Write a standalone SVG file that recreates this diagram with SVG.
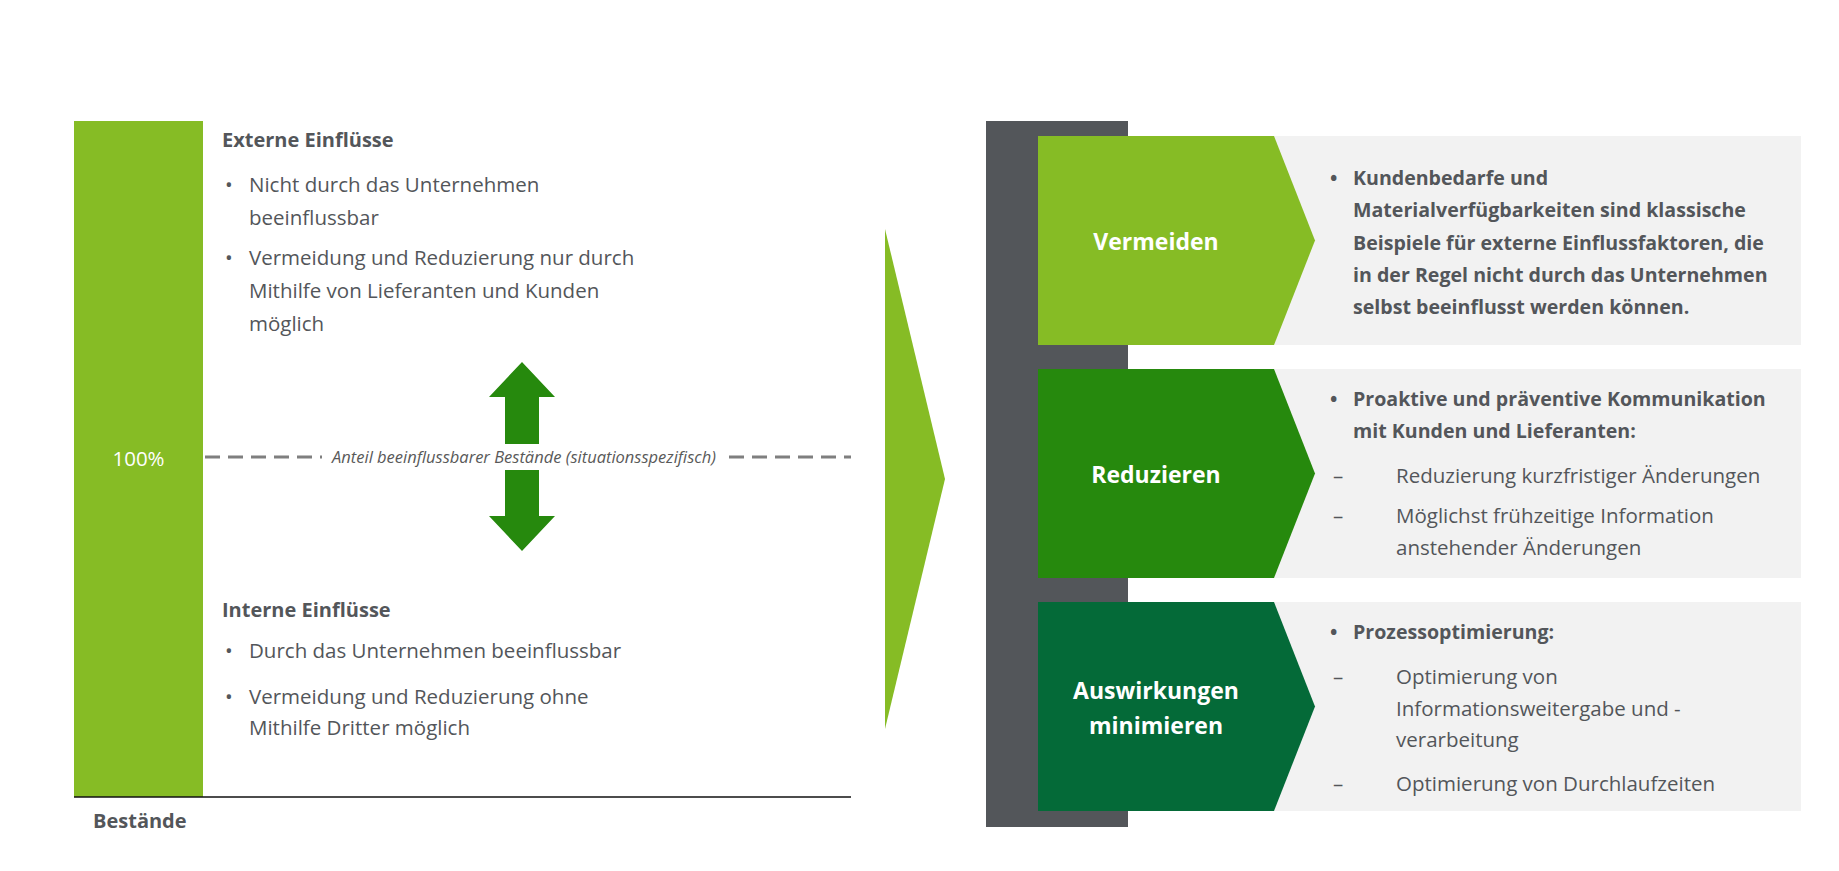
<svg xmlns="http://www.w3.org/2000/svg" width="1839" height="871" viewBox="0 0 1839 871">
<style>
text{font-family:"Open Sans","Liberation Sans",sans-serif;fill:#53565a}
.b{font-size:20.5px}
.h{font-size:20px;font-weight:700}
.r{font-size:20.5px}
.rb{font-size:19.6px;font-weight:700}
.lbl{font-size:23px;font-weight:700;fill:#ffffff;text-anchor:middle}
.it{font-size:16.5px;font-style:italic;fill:#595959}
.box{fill:#f2f2f2}
</style>
<rect width="1839" height="871" fill="#ffffff"/>
<g id="bar">
<rect x="74" y="121" width="129" height="676" fill="#86bc25"/>
<text x="138.5" y="466" class="b" style="fill:#ffffff" text-anchor="middle">100%</text>
</g>
<g id="axis">
<line x1="74" y1="797" x2="851" y2="797" stroke="#111" stroke-width="1.5"/>
<text x="93" y="828" class="h">Bestände</text>
</g>
<g id="extern">
<text x="222" y="147" class="h">Externe Einflüsse</text>
<text x="225" y="192" class="b">•</text>
<text x="249" y="192" class="b">Nicht durch das Unternehmen</text>
<text x="249" y="225" class="b">beeinflussbar</text>
<text x="225" y="265" class="b">•</text>
<text x="249" y="265" class="b">Vermeidung und Reduzierung nur durch</text>
<text x="249" y="298" class="b">Mithilfe von Lieferanten und Kunden</text>
<text x="249" y="331" class="b">möglich</text>
</g>
<g id="intern">
<text x="222" y="617" class="h">Interne Einflüsse</text>
<text x="225" y="658" class="b">•</text>
<text x="249" y="658" class="b">Durch das Unternehmen beeinflussbar</text>
<text x="225" y="704" class="b">•</text>
<text x="249" y="704" class="b">Vermeidung und Reduzierung ohne</text>
<text x="249" y="735" class="b">Mithilfe Dritter möglich</text>
</g>
<g id="connectors">
<line x1="205" y1="457" x2="322" y2="457" stroke="#7f7f7f" stroke-width="3" stroke-dasharray="15 8"/>
<line x1="729" y1="457" x2="851" y2="457" stroke="#7f7f7f" stroke-width="3" stroke-dasharray="15 8"/>
<text x="524" y="463" class="it" text-anchor="middle">Anteil beeinflussbarer Bestände (situationsspezifisch)</text>
<polygon points="522,362 555,397 539,397 539,444 505,444 505,397 489,397" fill="#26890d"/>
<polygon points="522,551 555,516 539,516 539,470 505,470 505,516 489,516" fill="#26890d"/>
<polygon points="885,229 945,479 885,729" fill="#86bc25"/>
</g>
<g id="frame">
<rect x="986" y="121" width="142" height="706" fill="#53565a"/>
</g>
<g id="vermeiden">
<rect class="box" x="1270" y="136" width="531" height="209"/>
<polygon points="1038,136 1274,136 1315,240.5 1274,345 1038,345" fill="#86bc25"/>
<text x="1156" y="250" class="lbl">Vermeiden</text>
<text x="1330" y="185" class="rb">•</text>
<text x="1353" y="185" class="rb">Kundenbedarfe und</text>
<text x="1353" y="217" class="rb">Materialverfügbarkeiten sind klassische</text>
<text x="1353" y="250" class="rb">Beispiele für externe Einflussfaktoren, die</text>
<text x="1353" y="282" class="rb">in der Regel nicht durch das Unternehmen</text>
<text x="1353" y="314" class="rb">selbst beeinflusst werden können.</text>
</g>
<g id="reduzieren">
<rect class="box" x="1270" y="369" width="531" height="209"/>
<polygon points="1038,369 1274,369 1315,473.5 1274,578 1038,578" fill="#26890d"/>
<text x="1156" y="483" class="lbl">Reduzieren</text>
<text x="1330" y="406" class="rb">•</text>
<text x="1353" y="406" class="rb">Proaktive und präventive Kommunikation</text>
<text x="1353" y="438" class="rb">mit Kunden und Lieferanten:</text>
<text x="1333" y="483" class="r">–</text>
<text x="1396" y="483" class="r">Reduzierung kurzfristiger Änderungen</text>
<text x="1333" y="523" class="r">–</text>
<text x="1396" y="523" class="r">Möglichst frühzeitige Information</text>
<text x="1396" y="555" class="r">anstehender Änderungen</text>
</g>
<g id="minimieren">
<rect class="box" x="1270" y="602" width="531" height="209"/>
<polygon points="1038,602 1274,602 1315,706.5 1274,811 1038,811" fill="#046a38"/>
<text x="1156" y="699" class="lbl">Auswirkungen</text>
<text x="1156" y="734" class="lbl">minimieren</text>
<text x="1330" y="639" class="rb">•</text>
<text x="1353" y="639" class="rb">Prozessoptimierung:</text>
<text x="1333" y="684" class="r">–</text>
<text x="1396" y="684" class="r">Optimierung von</text>
<text x="1396" y="716" class="r">Informationsweitergabe und -</text>
<text x="1396" y="747" class="r">verarbeitung</text>
<text x="1333" y="791" class="r">–</text>
<text x="1396" y="791" class="r">Optimierung von Durchlaufzeiten</text>
</g>
</svg>
